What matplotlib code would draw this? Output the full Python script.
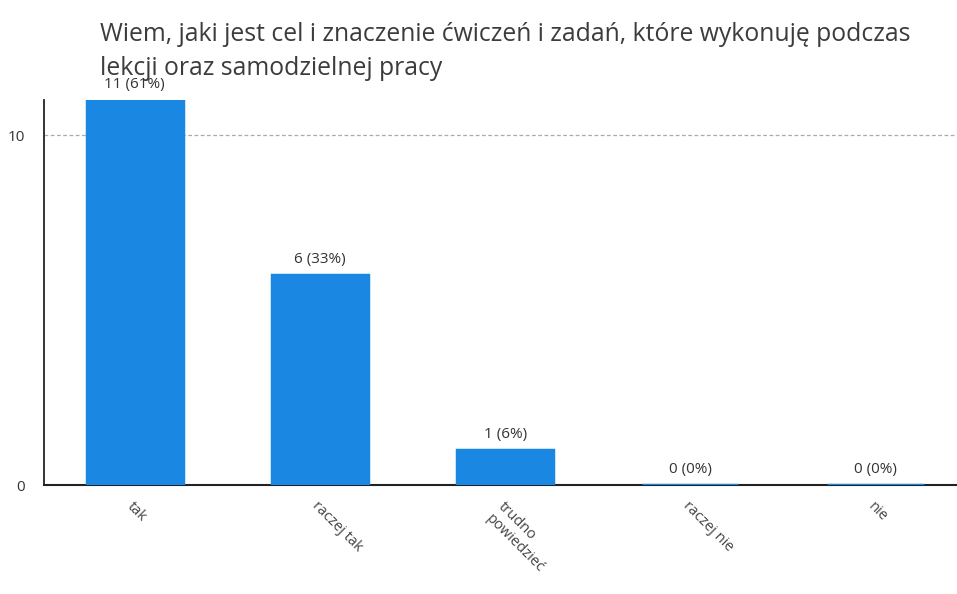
import numpy as np
import matplotlib.pyplot as plt

plt.rcParams['font.family'] = ['Open Sans', 'DejaVu Sans']

kategorie = ['tak', 'raczej tak', 'trudno\npowiedzieć', 'raczej nie', 'nie']
liczby = [11, 6, 1, 0, 0]
tytul = 'Wiem, jaki jest cel i znaczenie ćwiczeń i zadań, które wykonuję podczas\nlekcji oraz samodzielnej pracy'

kolor = '#1a88e2'
suma = sum(liczby)

fig = plt.figure(figsize=(9.57, 5.94), dpi=100)
ax = fig.add_axes([0.046, 0.1835, 0.954, 0.648])

x = np.arange(len(kategorie))
ax.bar(x, liczby, width=0.52, color=kolor, edgecolor=kolor, linewidth=2.5, zorder=3)

for xi, v in zip(x, liczby):
    ax.text(xi, v + 0.22, '{} ({:.0f}%)'.format(v, 100 * v / suma),
            ha='center', va='bottom', fontsize=11, color='#333333', zorder=4)

ax.set_xlim(-0.49, 4.44)
ax.set_ylim(0, 11)
ax.set_yticks([0, 10])
ax.tick_params(axis='y', length=0, pad=14, labelsize=11, labelcolor='#333333')
ax.set_xticks(x)
ax.set_xticklabels(kategorie, rotation=-45, ha='left', va='top', rotation_mode='anchor',
                   fontsize=10.5, color='#444444')
ax.tick_params(axis='x', length=0, pad=10)

ax.grid(axis='y', color='#aaaaaa', linestyle=(0, (3, 2)), linewidth=0.9, zorder=0)
ax.spines['top'].set_visible(False)
ax.spines['right'].set_visible(False)
ax.spines['left'].set_color('#222222')
ax.spines['left'].set_linewidth(1.3)
ax.spines['bottom'].set_color('#222222')
ax.spines['bottom'].set_linewidth(1.5)

fig.text(0.105, 0.963, tytul, ha='left', va='top', fontsize=17.8, color='#3c3c3c',
         linespacing=1.5, zorder=1)

fig.savefig('out.png', dpi=100)
